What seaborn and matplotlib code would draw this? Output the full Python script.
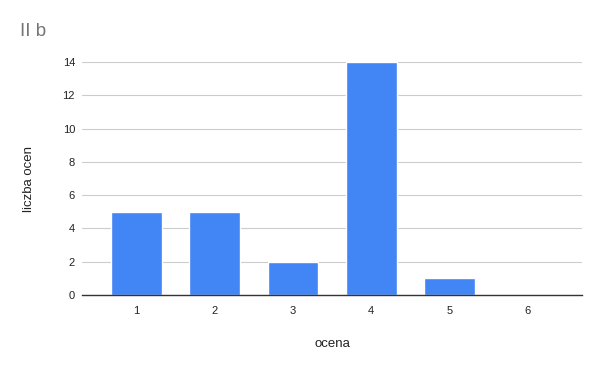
import matplotlib
matplotlib.use("Agg")
import matplotlib.pyplot as plt
import seaborn as sns
import pandas as pd

categories = ["1", "2", "3", "4", "5", "6"]
values = [5, 5, 2, 14, 1, 0]
yticks = [0, 2, 4, 6, 8, 10, 12, 14]

sns.set_theme(style="white")
plt.rcParams['font.family'] = ['Liberation Sans', 'DejaVu Sans']

df = pd.DataFrame({"ocena": categories, "liczba ocen": values})

fig = plt.figure(figsize=(6, 3.71), dpi=100)
ax = fig.add_axes([82/600, 1-295/371, (582-82)/600, (295-62)/371])
sns.barplot(data=df, x="ocena", y="liczba ocen", color="#4285F4", width=0.647,
            saturation=1, ax=ax, zorder=3)
ax.set_xlim(-0.693, 5.692)
ax.set_ylim(0, 14)
ax.set_yticks(yticks)
ax.set_yticklabels([str(t) for t in yticks])
ax.grid(axis="y", color="#cccccc", linewidth=0.8, zorder=0)
for s in ["top", "right", "left"]:
    ax.spines[s].set_visible(False)
ax.spines["bottom"].set_color("#333333")
ax.spines["bottom"].set_linewidth(1)
ax.spines["bottom"].set_zorder(4)
ax.tick_params(axis="both", length=0, labelsize=8, colors="#222222")
ax.tick_params(axis="y", pad=5)
ax.tick_params(axis="x", pad=8)
ax.set_xlabel("ocena", fontsize=9.5, color="#222222", labelpad=16)
ax.set_ylabel("liczba ocen", fontsize=9.5, color="#222222", labelpad=20)
fig.text(20/600, 1-32/371, "II b", fontsize=13.5, color="#757575", va="center", ha="left")
fig.savefig("out.png", dpi=100)
